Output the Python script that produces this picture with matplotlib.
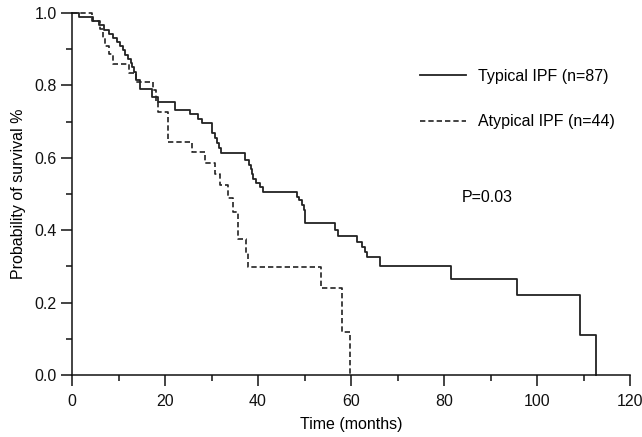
import numpy as np
import matplotlib
matplotlib.use('Agg')
import matplotlib.pyplot as plt
from matplotlib.ticker import MultipleLocator

plt.rcParams['font.family'] = ['Liberation Sans', 'DejaVu Sans']

# Kaplan-Meier steps (time in months, survival)
typical_t = [0, 1.6, 4.5, 5.7, 6.8, 7.9, 8.9, 9.6, 10.3, 11.0, 11.5, 12.1, 12.6,
             13.0, 13.4, 13.8, 14.6, 17.3, 18.5, 22.2, 25.4, 27.2, 28.0, 30.2,
             30.7, 31.2, 31.6, 32.0, 37.3, 38.0, 38.4, 38.8, 39.0, 39.5, 40.4,
             41.0, 48.3, 48.8, 49.4, 49.8, 50.1, 56.6, 57.3, 61.3, 62.4, 63.0,
             63.5, 66.2, 81.6, 95.6, 109.3, 112.7]
typical_s = [1.0, 0.989, 0.977, 0.966, 0.954, 0.943, 0.931, 0.920, 0.908, 0.897,
             0.885, 0.874, 0.862, 0.850, 0.838, 0.815, 0.790, 0.768, 0.755, 0.732,
             0.720, 0.708, 0.696, 0.668, 0.656, 0.642, 0.627, 0.613, 0.594, 0.580,
             0.568, 0.555, 0.541, 0.530, 0.518, 0.505, 0.492, 0.483, 0.470, 0.456,
             0.420, 0.400, 0.384, 0.367, 0.354, 0.340, 0.325, 0.300, 0.265, 0.221,
             0.110, 0.0]

atypical_t = [0, 4.3, 6.0, 6.6, 7.2, 8.0, 8.9, 12.2, 13.8, 17.4, 18.0, 18.5, 20.6,
              25.8, 28.6, 30.8, 31.8, 33.5, 34.6, 35.7, 37.4, 37.8, 53.6, 58.1, 59.8]
atypical_s = [1.0, 0.977, 0.955, 0.932, 0.909, 0.886, 0.859, 0.835, 0.810, 0.787,
              0.757, 0.727, 0.645, 0.616, 0.586, 0.555, 0.525, 0.489, 0.450, 0.375,
              0.336, 0.298, 0.240, 0.120, 0.0]

labels = ['Typical IPF (n=87)', 'Atypical IPF (n=44)']
p_text = 'P=0.03'

fig = plt.figure(figsize=(6.42, 4.37), dpi=100)
ax = fig.add_axes([72 / 642, 1 - 375 / 437, 558 / 642, 362 / 437])

col = '#222222'
ax.step(typical_t, typical_s, where='post', color=col, lw=1.3,
        label=labels[0], clip_on=False)
ax.step(atypical_t, atypical_s, where='post', color=col, lw=1.2,
        linestyle=(0, (3.2, 1.8)), label=labels[1], clip_on=False)

ax.set_xlim(0, 120)
ax.set_ylim(0, 1.0)
ax.xaxis.set_major_locator(MultipleLocator(20))
ax.xaxis.set_minor_locator(MultipleLocator(10))
ax.yaxis.set_major_locator(MultipleLocator(0.2))
ax.yaxis.set_minor_locator(MultipleLocator(0.1))
ax.yaxis.set_major_formatter(matplotlib.ticker.FormatStrFormatter('%.1f'))

for side in ['top', 'right']:
    ax.spines[side].set_visible(False)
for side in ['left', 'bottom']:
    ax.spines[side].set_linewidth(1.1)
    ax.spines[side].set_color('#111111')

ax.tick_params(which='major', direction='out', length=8, width=1.1,
               labelsize=11.5, colors='#111111')
ax.tick_params(which='minor', direction='out', length=4, width=1.1,
               colors='#111111')
ax.tick_params(axis='x', which='major', pad=6)
ax.tick_params(axis='y', which='major', pad=3)

ax.set_xlabel('Time (months)', fontsize=11.5, labelpad=5.5)
ax.set_ylabel('Probability of survival %', fontsize=11.5, labelpad=6)

leg = ax.legend(loc='upper left', bbox_to_anchor=(420 / 642, 1 - 69 / 437),
                bbox_transform=fig.transFigure, frameon=False, fontsize=11.5,
                handlelength=2.9, handletextpad=0.7, labelspacing=1.9,
                borderpad=0, borderaxespad=0)

ax.text(462 / 642, 1 - 197 / 437, p_text, transform=fig.transFigure,
        fontsize=11.5, va='center', ha='left')

fig.savefig('out.png', dpi=100)
